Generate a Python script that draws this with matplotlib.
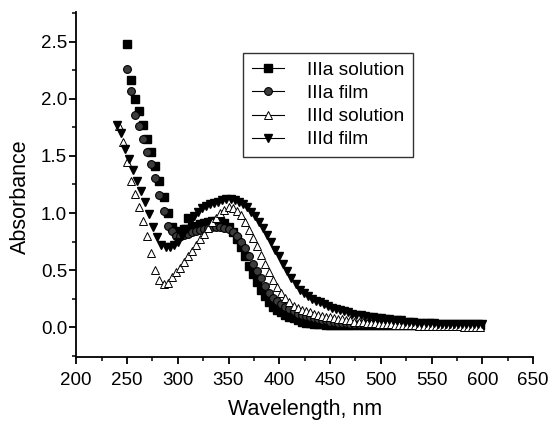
import numpy as np
import matplotlib
matplotlib.use("Agg")
import matplotlib.pyplot as plt
from matplotlib.lines import Line2D
from matplotlib.ticker import MultipleLocator, FormatStrFormatter

plt.rcParams["font.family"] = ["Liberation Sans", "DejaVu Sans"]

# absorbance, one value every 4 nm
iiia_sol_start = 250
iiia_sol = [2.48, 2.16, 2.00, 1.89, 1.77, 1.65, 1.53, 1.41, 1.28, 1.14,
            1.00, 0.88, 0.83, 0.84, 0.86, 0.96, 0.88, 0.89, 0.90, 0.91,
            0.92, 0.93, 0.93, 0.93, 0.91, 0.88, 0.83, 0.77, 0.70, 0.62,
            0.54, 0.47, 0.40, 0.33, 0.27, 0.22, 0.18, 0.15, 0.13, 0.11,
            0.09, 0.08, 0.06, 0.05, 0.04, 0.04, 0.03, 0.03, 0.03, 0.02,
            0.02, 0.02, 0.02, 0.02, 0.02, 0.02, 0.02, 0.02, 0.02, 0.02,
            0.02, 0.02, 0.02, 0.02, 0.02, 0.02, 0.02, 0.02, 0.02, 0.02,
            0.02, 0.02, 0.02, 0.02, 0.02, 0.02, 0.02, 0.02, 0.02, 0.02,
            0.02, 0.02, 0.02, 0.02, 0.02, 0.02, 0.02, 0.02]

iiia_film_start = 250
iiia_film = [2.26, 2.07, 1.86, 1.76, 1.65, 1.53, 1.43, 1.31, 1.16, 1.02,
             0.89, 0.84, 0.80, 0.80, 0.81, 0.82, 0.83, 0.84, 0.85, 0.86,
             0.87, 0.88, 0.88, 0.88, 0.87, 0.86, 0.83, 0.80, 0.75, 0.69,
             0.62, 0.55, 0.49, 0.43, 0.36, 0.30, 0.26, 0.23, 0.20, 0.18,
             0.16, 0.14, 0.12, 0.11, 0.10, 0.09, 0.08, 0.07, 0.06, 0.06,
             0.05, 0.05, 0.04, 0.04, 0.04, 0.03, 0.03, 0.03, 0.03, 0.03,
             0.03, 0.03, 0.03, 0.03, 0.03, 0.02, 0.02, 0.02, 0.02, 0.02,
             0.02, 0.02, 0.02, 0.02, 0.02, 0.02, 0.02, 0.02, 0.02, 0.02,
             0.02, 0.02, 0.02, 0.02, 0.02, 0.02, 0.02, 0.02]

iiid_sol_start = 242
iiid_sol = [1.76, 1.62, 1.45, 1.28, 1.17, 1.05, 0.93, 0.80, 0.65, 0.50,
            0.41, 0.38, 0.39, 0.44, 0.48, 0.52, 0.57, 0.62, 0.67, 0.72,
            0.77, 0.82, 0.87, 0.92, 0.96, 1.00, 1.03, 1.05, 1.04, 1.02,
            0.98, 0.92, 0.85, 0.78, 0.71, 0.63, 0.55, 0.48, 0.41, 0.35,
            0.30, 0.26, 0.22, 0.19, 0.17, 0.15, 0.14, 0.13, 0.12, 0.11,
            0.10, 0.09, 0.09, 0.08, 0.07, 0.07, 0.06, 0.06, 0.05, 0.05,
            0.05, 0.04, 0.04, 0.04, 0.03, 0.03, 0.03, 0.03, 0.02, 0.02,
            0.02, 0.02, 0.02, 0.02, 0.01, 0.01, 0.01, 0.01, 0.01, 0.01,
            0.01, 0.01, 0.01, 0.01, 0.01, 0.00, 0.00, 0.00, 0.00, 0.00]

iiid_film_start = 240
iiid_film = [1.77, 1.70, 1.56, 1.47, 1.38, 1.28, 1.19, 1.10, 0.99, 0.88,
             0.79, 0.72, 0.70, 0.70, 0.72, 0.75, 0.80, 0.86, 0.92, 0.97,
             1.01, 1.04, 1.06, 1.08, 1.09, 1.10, 1.11, 1.12, 1.12, 1.11,
             1.10, 1.08, 1.05, 1.01, 0.97, 0.92, 0.87, 0.81, 0.75, 0.68,
             0.62, 0.55, 0.49, 0.43, 0.38, 0.33, 0.30, 0.27, 0.25, 0.23,
             0.22, 0.20, 0.19, 0.17, 0.16, 0.15, 0.14, 0.13, 0.12, 0.11,
             0.11, 0.10, 0.09, 0.09, 0.08, 0.08, 0.07, 0.07, 0.06, 0.06,
             0.06, 0.05, 0.05, 0.05, 0.04, 0.04, 0.04, 0.04, 0.04, 0.03,
             0.03, 0.03, 0.03, 0.03, 0.03, 0.03, 0.03, 0.03, 0.03, 0.03,
             0.03]

labels = ["IIIa solution", "IIIa film", "IIId solution", "IIId film"]
STEP = 4


def grid(start, vals):
    return start + STEP * np.arange(len(vals))


fig = plt.figure(figsize=(5.48, 4.23), dpi=100)
ax = fig.add_axes([0.139, 0.156, 0.834, 0.816])

styles = [
    dict(marker="s", ms=5.2, mfc="black", mec="black"),
    dict(marker="o", ms=5.6, mfc="#3c3c3c", mec="black", mew=0.8),
    dict(marker="^", ms=6.2, mfc="white", mec="black", mew=0.7),
    dict(marker="v", ms=6.4, mfc="black", mec="black"),
]
starts = [iiia_sol_start, iiia_film_start, iiid_sol_start, iiid_film_start]
data = [iiia_sol, iiia_film, iiid_sol, iiid_film]

handles = []
for start, vals, st, lab in zip(starts, data, styles, labels):
    ax.plot(grid(start, vals), vals, ls="none", **st)
    handles.append(Line2D([], [], color="black", lw=0.8, label=lab, **st))

ax.set_xlim(200, 650)
ax.set_ylim(-0.26, 2.76)
ax.xaxis.set_major_locator(MultipleLocator(50))
ax.xaxis.set_minor_locator(MultipleLocator(25))
ax.yaxis.set_major_locator(MultipleLocator(0.5))
ax.yaxis.set_minor_locator(MultipleLocator(0.25))
ax.yaxis.set_major_formatter(FormatStrFormatter("%.1f"))

for s in ("top", "right"):
    ax.spines[s].set_visible(False)
for s in ("left", "bottom"):
    ax.spines[s].set_linewidth(1.3)
ax.tick_params(which="major", length=5, width=1.3, labelsize=13.5, direction="out")
ax.tick_params(which="minor", length=3, width=1.1, direction="out")
ax.tick_params(axis="x", pad=6)
ax.tick_params(axis="y", pad=1.5)

ax.set_xlabel("Wavelength, nm", fontsize=15.5, labelpad=7)
ax.set_ylabel("Absorbance", fontsize=15.5)
ax.yaxis.set_label_coords(-0.098, 0.465)

leg = ax.legend(handles=handles, loc="upper left", bbox_to_anchor=(0.365, 0.881),
                fontsize=13.8, frameon=True, fancybox=False, edgecolor="black",
                handlelength=1.7, labelspacing=0.3, borderpad=0.45,
                handletextpad=1.2, borderaxespad=0)
leg.get_frame().set_linewidth(1.0)

fig.savefig("out.png", dpi=100, facecolor="white")
